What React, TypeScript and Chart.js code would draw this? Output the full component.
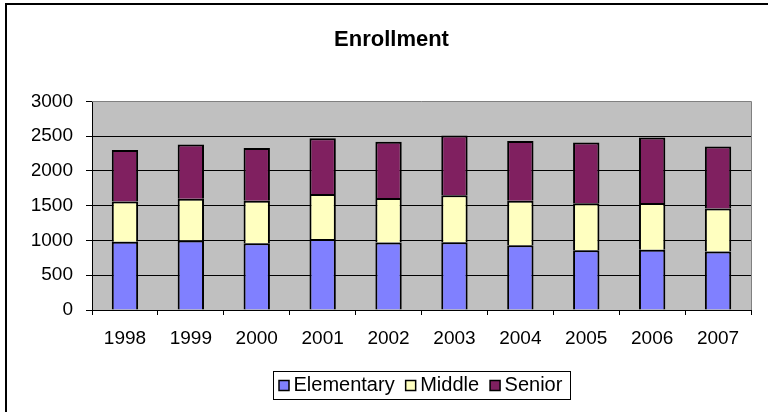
import { useEffect, useRef } from 'react';
import { Chart, registerables } from 'chart.js';

Chart.register(...registerables);

const categories = ['1998', '1999', '2000', '2001', '2002', '2003', '2004', '2005', '2006', '2007'];
const elementary = [980, 1000, 960, 1020, 970, 975, 930, 860, 865, 840];
const middle = [580, 600, 610, 650, 640, 675, 640, 675, 675, 620];
const senior = [740, 780, 760, 800, 810, 860, 860, 875, 940, 890];
const seriesNames = ['Elementary', 'Middle', 'Senior'];
const yMin = 0;
const yMax = 3000;
const yStep = 500;
const chartTitle = 'Enrollment';

const FONT = '"Liberation Sans", Arial, Helvetica, sans-serif';

const plotDecor = {
  id: 'plotDecor',
  beforeDraw(chart: any) {
    const { ctx, chartArea } = chart;
    ctx.save();
    ctx.fillStyle = '#C0C0C0';
    ctx.fillRect(chartArea.left, chartArea.top, chartArea.right - chartArea.left, chartArea.bottom - chartArea.top);
    ctx.restore();
  },
  beforeDatasetsDraw(chart: any) {
    const { ctx, chartArea } = chart;
    ctx.save();
    ctx.strokeStyle = '#808080';
    ctx.lineWidth = 1;
    ctx.beginPath();
    ctx.moveTo(chartArea.left, Math.round(chartArea.top) + 0.5);
    ctx.lineTo(Math.round(chartArea.right) + 0.5, Math.round(chartArea.top) + 0.5);
    ctx.lineTo(Math.round(chartArea.right) + 0.5, chartArea.bottom);
    ctx.stroke();
    ctx.restore();
  },
};

const boxLegend = {
  id: 'boxLegend',
  afterDraw(chart: any) {
    const { ctx, chartArea } = chart;
    ctx.save();
    ctx.font = `20px ${FONT}`;
    const box = 10;
    const gapText = 4.5;
    const gapItem = 11;
    const padL = 6;
    const padR = 8;
    const items = chart.data.datasets.map((ds: any) => ({
      label: ds.label,
      color: ds.backgroundColor,
      w: ctx.measureText(ds.label).width,
    }));
    let total = padL + padR;
    items.forEach((it: any, i: number) => {
      total += box + gapText + it.w + (i ? gapItem : 0);
    });
    const cx = (chartArea.left + chartArea.right) / 2;
    const left = Math.round(cx - total / 2);
    const top = Math.round(chartArea.bottom + 61);
    const h = 28;
    ctx.fillStyle = '#ffffff';
    ctx.fillRect(left, top, total, h);
    ctx.strokeStyle = '#000000';
    ctx.lineWidth = 1;
    ctx.strokeRect(left + 0.5, top + 0.5, Math.round(total), h);
    const midY = top + h / 2 + 0.5;
    let x = left + padL;
    ctx.textBaseline = 'middle';
    ctx.textAlign = 'left';
    items.forEach((it: any, i: number) => {
      if (i) x += gapItem;
      ctx.fillStyle = it.color;
      ctx.fillRect(x, midY - box / 2, box, box);
      ctx.lineWidth = 1.5;
      ctx.strokeStyle = '#000000';
      ctx.strokeRect(x, midY - box / 2, box, box);
      x += box + gapText;
      ctx.fillStyle = '#000000';
      ctx.fillText(it.label, x, midY);
      x += it.w;
    });
    ctx.restore();
  },
};

export default function App() {
  const canvasRef = useRef<HTMLCanvasElement | null>(null);

  useEffect(() => {
    if (!canvasRef.current) return;
    const common = { borderColor: '#000000', borderWidth: 2, barPercentage: 0.4, categoryPercentage: 1 };
    const chart = new Chart(canvasRef.current, {
      type: 'bar',
      data: {
        labels: categories,
        datasets: [
          { label: seriesNames[0], data: elementary, backgroundColor: '#8080FF', ...common },
          { label: seriesNames[1], data: middle, backgroundColor: '#FFFFC0', ...common },
          { label: seriesNames[2], data: senior, backgroundColor: '#802060', ...common },
        ],
      },
      options: {
        responsive: false,
        animation: false,
        devicePixelRatio: 1,
        layout: { padding: { left: 32, right: 17, top: 0, bottom: 52 } },
        plugins: {
          legend: { display: false },
          tooltip: { enabled: false },
          title: {
            display: true,
            text: chartTitle,
            color: '#000000',
            font: { family: FONT, size: 22, weight: 'bold' },
            padding: { top: 27, bottom: 48 },
          },
        },
        scales: {
          x: {
            stacked: true,
            offset: true,
            afterFit: (scale: any) => {
              scale.height = 50;
            },
            grid: {
              offset: true,
              drawOnChartArea: false,
              drawTicks: true,
              tickLength: 5,
              color: '#000000',
              tickColor: '#000000',
            },
            border: { display: true, color: '#000000', width: 1 },
            ticks: {
              color: '#000000',
              font: { family: FONT, size: 19 },
              padding: 12,
              maxRotation: 0,
              autoSkip: false,
            },
          },
          y: {
            stacked: true,
            min: yMin,
            max: yMax,
            afterFit: (scale: any) => {
              scale.width = 60;
            },
            grid: {
              color: (c: any) => (c.tick && c.tick.value === yMax ? 'rgba(0,0,0,0)' : '#000000'),
              tickColor: '#000000',
              tickLength: 6,
              lineWidth: 1,
            },
            border: { display: true, color: '#000000', width: 1 },
            ticks: {
              stepSize: yStep,
              color: '#000000',
              font: { family: FONT, size: 19 },
              padding: 13,
              callback: (v: any) => String(v),
            },
          },
        },
      } as any,
      plugins: [plotDecor, boxLegend],
    });
    return () => chart.destroy();
  }, []);

  return (
    <div style={{ position: 'fixed', left: 0, top: 0, width: 768, height: 412, overflow: 'hidden', background: '#ffffff' }}>
      <div
        style={{
          position: 'absolute',
          left: 5,
          top: 3,
          width: 820,
          height: 460,
          border: '2px solid #000000',
          boxSizing: 'border-box',
        }}
      />
      <canvas ref={canvasRef} width={768} height={412} style={{ position: 'absolute', left: 0, top: 0, width: 768, height: 412 }} />
    </div>
  );
}
